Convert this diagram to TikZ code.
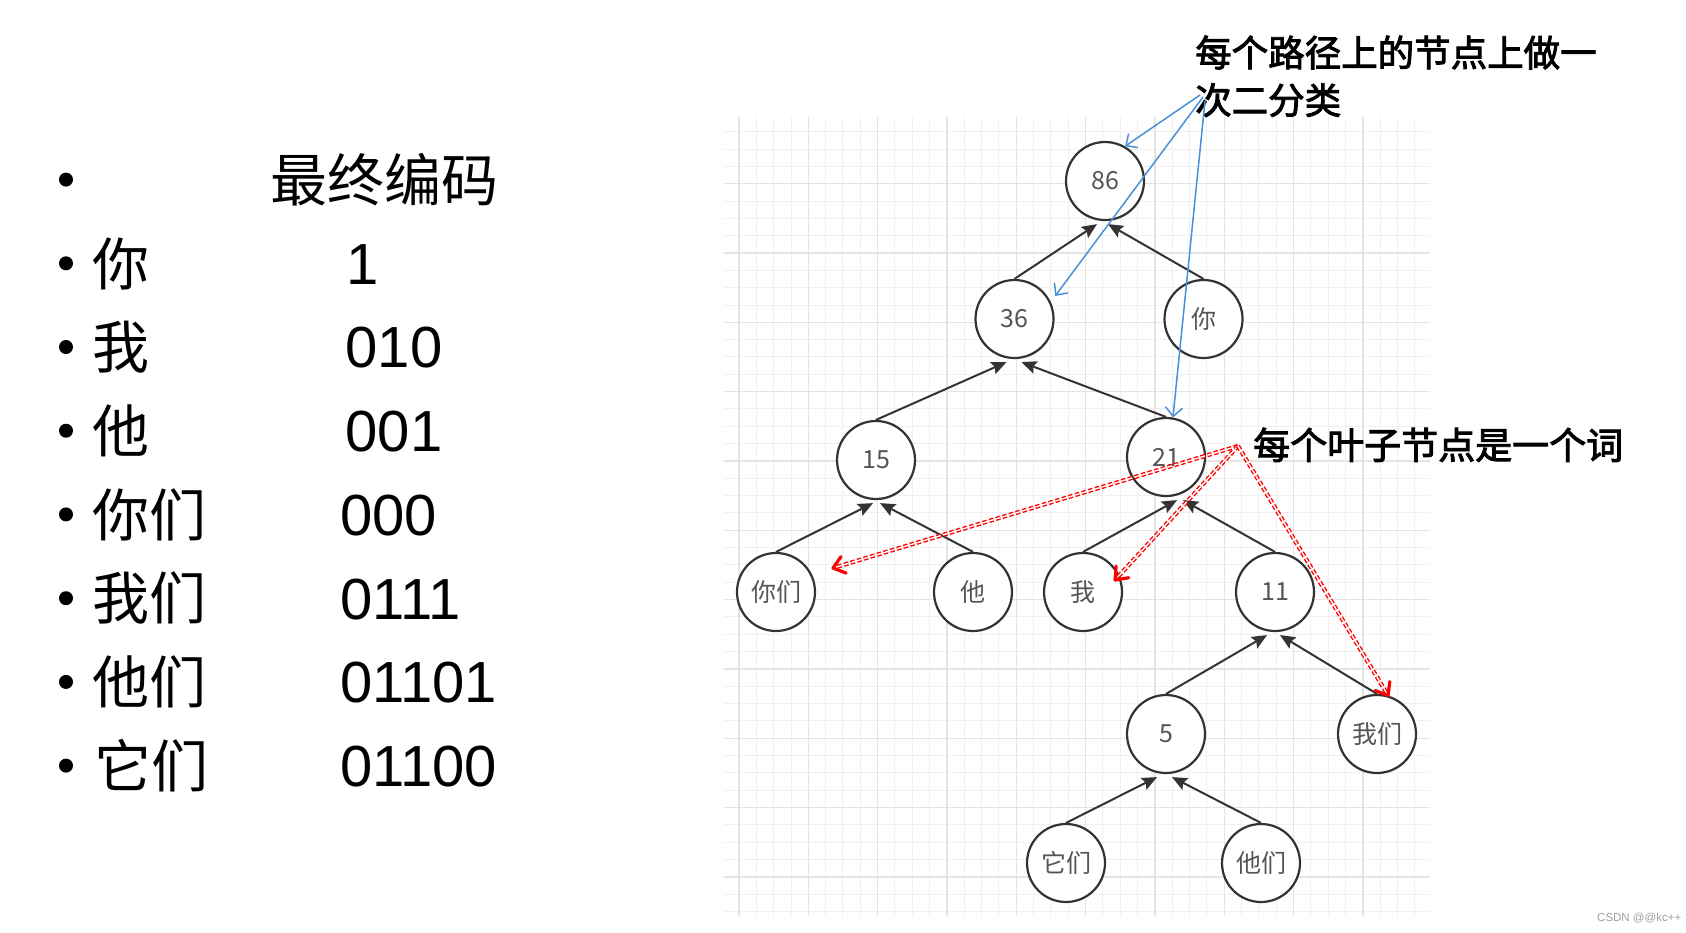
\documentclass[tikz,border=0pt]{standalone}
\usepackage{fontspec}
\setmainfont{Liberation Sans}
\newfontfamily\cjk{Noto Sans CJK SC}
\newfontfamily\cjkheavy[FakeBold=2.5]{Noto Sans CJK SC}
\usetikzlibrary{arrows.meta,calc}
\definecolor{ink}{HTML}{333333}
\definecolor{lbl}{HTML}{555555}
\definecolor{gminor}{HTML}{F0F0F0}
\definecolor{gmajor}{HTML}{E4E4E4}
\definecolor{bl}{HTML}{4A90D9}
\definecolor{wm}{HTML}{A0A0A0}
\begin{document}
\begin{tikzpicture}[x=1pt,y=-1pt,
  tn/.style={circle,draw=ink,line width=2.2pt,fill=white,minimum size=78pt,inner sep=0pt,text=lbl,font=\cjk\fontsize{25}{27}\selectfont},
  treeedge/.style={draw=ink,line width=2pt,-{Stealth[length=15pt,width=13pt,inset=2.5pt]}},
  bluearrow/.style={draw=bl,line width=1.5pt,-{Straight Barb[length=9pt,width=17pt]}},
  reddash/.style={draw=red,line width=1.4pt,double=white,double distance=1.4pt,dash pattern=on 4.5pt off 2.4pt},
  redtip/.style={draw=red,line width=3.2pt,line cap=round,line join=round},
  cjkbig/.style={anchor=base west,inner sep=0pt,font=\cjk\fontsize{57}{60}\selectfont},
  code/.style={anchor=base west,inner sep=0pt,font=\fontsize{58}{60}\selectfont},
  note/.style={anchor=base west,inner sep=0pt,font=\cjkheavy\fontsize{36.5}{40}\selectfont}
]
\useasboundingbox (0,0) rectangle (1686,932);
\fill[white] (0,0) rectangle (1686,932);

% grid
\foreach \k in {0,...,39}{
  \pgfmathsetmacro\xx{739+17.33*\k}
  \draw[gminor,line width=1pt] (\xx,117) -- (\xx,916);
}
\foreach \k in {0,...,45}{
  \pgfmathsetmacro\yy{131.7+17.33*\k}
  \draw[gminor,line width=1pt] (724,\yy) -- (1430,\yy);
}
\foreach \k in {0,4,...,36}{
  \pgfmathsetmacro\xx{739+17.33*\k}
  \draw[gmajor,line width=1.4pt] (\xx,117) -- (\xx,916);
}
\foreach \k in {3,7,...,43}{
  \pgfmathsetmacro\yy{131.7+17.33*\k}
  \draw[gmajor,line width=1.4pt] (724,\yy) -- (1430,\yy);
}

% left list
\foreach \yy in {179.6,263.3,347.0,430.7,514.4,598.2,681.9,765.6}{
  \fill (66,\yy) circle (7);
}
\node[cjkbig] (hd) at (270,201.3) {最终编码};
\node[cjkbig] (w1) at (92,285.0) {你};
\node[cjkbig] (w2) at (92,368.7) {我};
\node[cjkbig] (w3) at (92,452.4) {他};
\node[cjkbig] (w4) at (92,536.1) {你们};
\node[cjkbig] (w5) at (92,619.9) {我们};
\node[cjkbig] (w6) at (92,703.6) {他们};
\node[cjkbig] (w7) at (94,787.3) {它们};
\node[code] (c1) at (346,284.1) {1};
\node[code] (c2) at (345.5,367.8) {010};
\node[code] (c3) at (345.5,451.5) {001};
\node[code] (c4) at (340,535.2) {000};
\node[code] (c5) at (340,619.0) {0111};
\node[code] (c6) at (340,702.7) {01101};
\node[code] (c7) at (340,786.4) {01100};

% tree nodes
\node[tn] (n86) at (1105,181) {86};
\node[tn] (n36) at (1014.5,319) {36};
\node[tn] (nNi) at (1203.5,319) {你};
\node[tn] (n15) at (876,460) {15};
\node[tn] (n21) at (1166,457) {21};
\node[tn] (nNimen) at (776,592) {你们};
\node[tn] (nTa) at (973,592) {他};
\node[tn] (nWo) at (1083,592) {我};
\node[tn] (n11) at (1275,592) {11};
\node[tn] (n5) at (1166,734) {5};
\node[tn] (nWomen) at (1377,734) {我们};
\node[tn] (nItmen) at (1066,863) {它们};
\node[tn] (nTamen) at (1261,863) {他们};

% tree edges
\draw[treeedge] (n36.north) -- ($(n86.south)+(-8,3)$);
\draw[treeedge] (nNi.north) -- ($(n86.south)+(3,3)$);
\draw[treeedge] (n15.north) -- ($(n36.south)+(-8,3)$);
\draw[treeedge] (n21.north) -- ($(n36.south)+(7,3)$);
\draw[treeedge] (nNimen.north) -- ($(n15.south)+(-3,3)$);
\draw[treeedge] (nTa.north) -- ($(n15.south)+(4,3)$);
\draw[treeedge] (nWo.north) -- ($(n21.south)+(11,3)$);
\draw[treeedge] (n11.north) -- ($(n21.south)+(17,3)$);
\draw[treeedge] (n5.north) -- ($(n11.south)+(-8,3)$);
\draw[treeedge] (nWomen.north) -- ($(n11.south)+(5,3)$);
\draw[treeedge] (nItmen.north) -- ($(n5.south)+(-9,3)$);
\draw[treeedge] (nTamen.north) -- ($(n5.south)+(6,3)$);

% notes
\node[note] (noteA1) at (1195,66.4) {每个路径上的节点上做一};
\node[note] (noteA2) at (1195,113.9) {次二分类};
\node[note,font=\cjkheavy\fontsize{37}{40}\selectfont] (noteB) at (1253,459) {每个叶子节点是一个词};

% blue arrows
\coordinate (b1) at (1200,95);
\coordinate (b2) at (1203,97);
\coordinate (b3) at (1205,101);
\draw[bluearrow] (b1) -- (n86.60);
\draw[bluearrow] (b2) -- ($(n36.30)+(6,-3)$);
\draw[bluearrow] (b3) -- (n21.80);

% red arrows
\coordinate (r0) at (1238,446);
\coordinate (t1) at ($(nNimen.center)+(57,-24)$);
\coordinate (t2) at ($(nWo.center)+(32,-12)$);
\coordinate (t3) at (nWomen.74);
\foreach \t in {t1,t2,t3}{
  \draw[reddash,shorten >=3pt] (r0) -- (\t);
  \draw[redtip] ($(\t)!14pt!38:(r0)$) -- (\t) -- ($(\t)!14pt!-38:(r0)$);
}

% watermark
\node[anchor=base west,inner sep=0pt,text=wm,font=\fontsize{11.5}{12}\selectfont] (wmk) at (1597,921) {CSDN @@kc++};
\end{tikzpicture}
\end{document}
